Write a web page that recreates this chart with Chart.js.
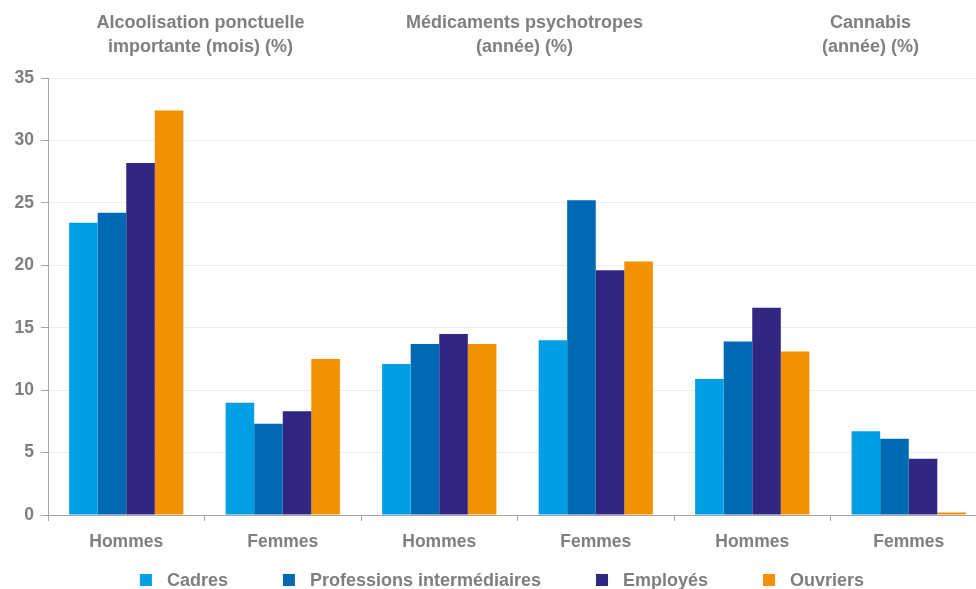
<!DOCTYPE html>
<html lang="fr">
<head>
<meta charset="utf-8">
<title>Consommations selon la catégorie socioprofessionnelle</title>
<script src="https://cdn.jsdelivr.net/npm/chart.js@4/dist/chart.umd.min.js"></script>
<style>
  html, body { margin: 0; padding: 0; background: #fff; overflow: hidden; }
  #wrap { position: relative; width: 1000px; height: 589px; }
</style>
</head>
<body>
<div id="wrap"><canvas id="chart"></canvas></div>
<script>
'use strict';

/* Donnees */
const categories = ['Hommes', 'Femmes', 'Hommes', 'Femmes', 'Hommes', 'Femmes'];
const groupTitles = [
    ['Alcoolisation ponctuelle', 'importante (mois) (%)'],
    ['Médicaments psychotropes', '(année) (%)'],
    ['Cannabis', '(année) (%)']
];
const seriesNames = ['Cadres', 'Professions intermédiaires', 'Employés', 'Ouvriers'];
const cadres = [23.4, 9.0, 12.1, 14.0, 10.9, 6.7];
const professions = [24.2, 7.3, 13.7, 25.2, 13.9, 6.1];
const employes = [28.2, 8.3, 14.5, 19.6, 16.6, 4.5];
const ouvriers = [32.4, 12.5, 13.7, 20.3, 13.1, 0.2];

const colors = ['#009fe3', '#0069b4', '#312783', '#f39200'];
const textGray = '#7f7f7f';
const axisGray = '#a6a6a6';
const fontFamily = '"Liberation Sans", Arial, sans-serif';

// Titres de groupe au-dessus des paires Hommes / Femmes
const groupTitlesPlugin = {
    id: 'groupTitles',
    afterDraw(chart, args, opts) {
        const ctx = chart.ctx;
        const x = chart.scales.x;
        ctx.save();
        ctx.font = 'bold 18px ' + fontFamily;
        ctx.fillStyle = textGray;
        ctx.textAlign = 'center';
        ctx.textBaseline = 'middle';
        groupTitles.forEach((lines, k) => {
            const cx = (x.getPixelForValue(2 * k) + x.getPixelForValue(2 * k + 1)) / 2 + opts.shift[k];
            lines.forEach((t, i) => ctx.fillText(t, cx, opts.top + i * opts.lineGap));
        });
        ctx.restore();
    }
};

// Legende en bas, carres + libelles
const bottomLegendPlugin = {
    id: 'bottomLegend',
    afterDraw(chart, args, opts) {
        const ctx = chart.ctx;
        ctx.save();
        ctx.font = 'bold 18px ' + fontFamily;
        ctx.textBaseline = 'middle';
        ctx.textAlign = 'left';
        const items = chart.data.datasets.map(ds => ({
            label: ds.label,
            color: ds.backgroundColor,
            w: opts.box + opts.boxGap + ctx.measureText(ds.label).width
        }));
        const total = items.reduce((s, it) => s + it.w, 0) + opts.itemGap * (items.length - 1);
        let px = opts.center - total / 2;
        items.forEach(it => {
            ctx.fillStyle = it.color;
            ctx.fillRect(px, opts.y - opts.box / 2, opts.box, opts.box);
            ctx.fillStyle = textGray;
            ctx.fillText(it.label, px + opts.box + opts.boxGap, opts.y + 1);
            px += it.w + opts.itemGap;
        });
        ctx.restore();
    }
};

const seriesValues = [cadres, professions, employes, ouvriers];

new Chart(document.getElementById('chart'), {
    type: 'bar',
    data: {
        labels: categories,
        datasets: seriesNames.map((name, i) => ({
            label: name,
            data: seriesValues[i],
            backgroundColor: colors[i],
            borderWidth: 0,
            categoryPercentage: 0.73,
            barPercentage: 1.0
        }))
    },
    options: {
        responsive: true,
        maintainAspectRatio: false,
        animation: false,
        layout: {
            padding: { top: 78, right: 13, bottom: 34, left: 0 }
        },
        scales: {
            x: {
                afterFit: (scale) => { scale.height = 40; },
                grid: {
                    display: true,
                    drawOnChartArea: false,
                    drawTicks: true,
                    tickLength: 6,
                    color: axisGray
                },
                border: { display: true, color: axisGray, width: 1 },
                ticks: {
                    color: textGray,
                    padding: 11,
                    maxRotation: 0,
                    font: { family: fontFamily, size: 17.5, weight: 'bold' }
                }
            },
            y: {
                min: 0,
                max: 35,
                afterFit: (scale) => { scale.width = 48; },
                grid: {
                    color: '#ededed',
                    tickColor: axisGray,
                    tickLength: 7
                },
                border: { display: true, color: axisGray, width: 1 },
                ticks: {
                    stepSize: 5,
                    color: textGray,
                    padding: 7,
                    font: { family: fontFamily, size: 17.5, weight: 'bold' }
                }
            }
        },
        plugins: {
            legend: { display: false },
            tooltip: { enabled: false },
            groupTitles: { top: 23, lineGap: 24, shift: [-4, 7, 40] },
            bottomLegend: { y: 580, center: 502, box: 12, boxGap: 15, itemGap: 55 }
        }
    },
    plugins: [groupTitlesPlugin, bottomLegendPlugin]
});
</script>
</body>
</html>
